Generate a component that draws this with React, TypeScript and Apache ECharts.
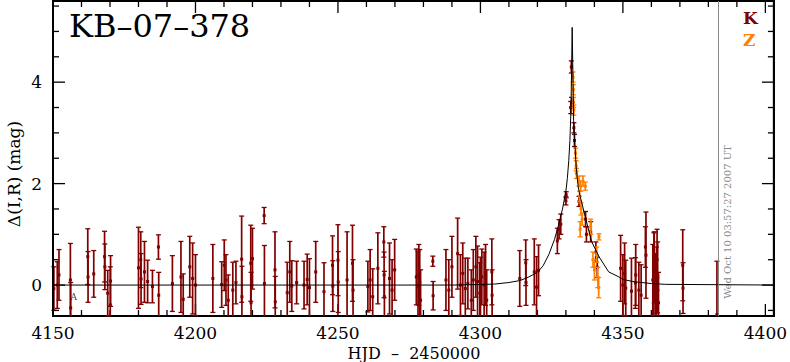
import React, { useEffect, useRef } from "react";
import * as echarts from "echarts";

// ---- data ----
const kData: number[][] = [
  [4150.3, -0.07, 0.43], [4151.5, 0.0, 0.46], [4152.1, 0.2, 0.5], [4156.1, 0.1, 0.72], [4156.2, -0.45, 0.5],
  [4162.2, 0.56, 0.55], [4162.3, 0.16, 0.5], [4164.3, 0.22, 0.46], [4168.1, 0.56, 0.5], [4168.2, 0.36, 0.45],
  [4169.2, -0.16, 0.45], [4170.1, -0.39, 0.75], [4170.2, 0.08, 0.5], [4180.0, 0.34, 0.8], [4180.8, 0.5, 0.55],
  [4180.9, 0.12, 0.5], [4182.1, 0.26, 0.6], [4183.2, 0.07, 0.42], [4184.9, -0.03, 0.32], [4187.0, 0.75, 0.24],
  [4187.1, -0.2, 0.45], [4191.9, 0.03, 0.55], [4194.9, 0.16, 0.7], [4195.7, -0.28, 0.5], [4198.0, 0.36, 0.6],
  [4199.0, 0.13, 0.7], [4200.0, 0.0, 0.6], [4206.1, 0.13, 0.67], [4209.2, 0.01, 0.45], [4210.1, 0.39, 0.5],
  [4210.7, 0.1, 0.5], [4211.5, -0.3, 0.5], [4213.1, -0.1, 0.55], [4214.2, 0.05, 0.42], [4216.2, 0.51, 0.85],
  [4216.3, -0.23, 0.6], [4219.4, 0.43, 0.75], [4219.5, -0.35, 0.6], [4220.0, 0.52, 0.6], [4224.1, 1.37, 0.16],
  [4224.2, 0.03, 0.75], [4227.9, 0.3, 0.75], [4228.0, -0.33, 0.5], [4232.2, -0.15, 0.6], [4233.1, 0.26, 0.6],
  [4233.8, -0.02, 0.5], [4235.5, 0.05, 0.42], [4238.1, 0.0, 0.47], [4239.2, 0.11, 0.5], [4240.0, -0.05, 0.57],
  [4242.2, 0.26, 0.6], [4245.1, -0.13, 0.57], [4248.1, 0.39, 0.58], [4248.2, -0.02, 0.5], [4250.0, 0.49, 0.7],
  [4250.1, 0.06, 0.6], [4253.2, 0.1, 0.95], [4255.1, 0.43, 0.75], [4255.3, -0.1, 0.6], [4260.5, -0.03, 0.5],
  [4261.3, 0.1, 0.6], [4262.2, -0.23, 0.55], [4264.0, 0.33, 0.7], [4266.1, 0.85, 0.3], [4266.2, 0.2, 0.45],
  [4266.3, -0.23, 0.5], [4268.1, 0.13, 0.7], [4269.0, -0.1, 0.6], [4269.9, 0.3, 0.6], [4277.5, 0.16, 0.55],
  [4278.1, -0.03, 0.7], [4278.4, 0.2, 0.6], [4278.7, 0.05, 0.65], [4279.0, -0.3, 0.6], [4283.3, 0.47, 0.1],
  [4283.4, -0.21, 0.28], [4287.9, 0.1, 0.6], [4288.9, -0.1, 0.6], [4290.0, 0.36, 0.6], [4292.0, 0.62, 0.7],
  [4293.0, 0.0, 0.6], [4293.8, 0.23, 0.6], [4294.7, -0.07, 0.6], [4295.6, 0.03, 0.5], [4296.8, -0.3, 0.6],
  [4297.5, 0.1, 0.6], [4298.4, 0.36, 0.6], [4299.0, 0.07, 0.7], [4299.8, -0.16, 0.6], [4300.0, -0.05, 0.6],
  [4300.5, 0.16, 0.55], [4301.3, 0.0, 0.65], [4301.8, 0.2, 0.6], [4302.2, -0.3, 0.6], [4304.0, 0.26, 0.65],
  [4304.1, -0.2, 0.5], [4313.8, 0.13, 0.55], [4315.9, 0.44, 0.45], [4316.0, 0.05, 0.45], [4318.9, 0.26, 0.65],
  [4319.7, -0.04, 0.6], [4320.4, 0.29, 0.5], [4327.0, 0.87, 0.25], [4327.6, 1.1, 0.19], [4328.2, 1.2, 0.2],
  [4330.0, 1.66, 0.08], [4330.1, 1.78, 0.06], [4331.7, 3.5, 0.12], [4331.9, 4.3, 0.12], [4332.0, 3.6, 0.1],
  [4332.8, 3.1, 0.1], [4333.0, 2.85, 0.12], [4334.6, 1.65, 0.1], [4336.9, 1.3, 0.15], [4337.2, 1.0, 0.15],
  [4338.7, 1.05, 0.2], [4340.5, 0.65, 0.2], [4341.0, 0.35, 0.2], [4349.2, 0.33, 0.65], [4350.0, 0.0, 0.6],
  [4350.6, 0.23, 0.6], [4351.0, -0.06, 0.55], [4353.0, -0.12, 0.65], [4354.4, 0.04, 0.5], [4354.5, 0.2, 0.6],
  [4355.6, -0.1, 0.55], [4356.4, -0.2, 0.6], [4357.9, 0.75, 0.4], [4358.1, 0.59, 0.85], [4360.5, 0.1, 0.7],
  [4360.9, 0.23, 0.8], [4361.0, 0.35, 0.7], [4361.5, -0.08, 0.7], [4361.8, 0.0, 0.75], [4362.0, 0.5, 0.6],
  [4362.2, 0.15, 0.7], [4362.5, -0.35, 0.6], [4371.0, 0.39, 0.7], [4371.1, -0.06, 0.5], [4383.0, -0.58, 1.05],
];

const zData: number[][] = [
  [4332.5, 4.1, 0.1], [4332.6, 3.85, 0.1], [4332.7, 3.6, 0.1], [4332.8, 3.45, 0.1], [4333.4, 2.6, 0.1],
  [4333.6, 2.35, 0.1], [4333.7, 2.2, 0.1], [4334.6, 2.05, 0.1], [4335.2, 1.95, 0.1], [4336.0, 2.05, 0.1],
  [4336.8, 1.95, 0.08], [4334.8, 1.75, 0.1], [4335.3, 1.5, 0.12], [4335.7, 1.3, 0.12], [4335.0, 1.1, 0.15],
  [4338.7, 1.15, 0.15], [4341.6, 0.95, 0.06], [4339.5, 0.5, 0.15], [4340.0, 0.3, 0.2], [4340.8, 0.6, 0.15],
  [4341.2, 0.15, 0.2], [4341.5, -0.05, 0.2],
];

const modelT = [4150, 4290, 4300, 4305, 4310, 4314, 4317, 4320, 4322, 4324, 4326, 4327.5, 4328.8, 4330, 4330.5, 4331, 4331.4, 4331.8, 4332.2, 4332.5, 4332.7, 4333.2, 4333.6, 4334.3, 4335, 4337, 4339, 4341.6, 4345, 4348.6, 4350, 4354, 4360, 4365, 4403];
const modelV = [0, 0.0, 0.01, 0.02, 0.05, 0.09, 0.16, 0.25, 0.38, 0.6, 0.9, 1.2, 1.5, 1.85, 2.1, 2.45, 2.85, 3.5, 5.08, 4.0, 3.25, 2.72, 2.33, 1.94, 1.75, 1.3, 0.86, 0.56, 0.26, 0.16, 0.11, 0.065, 0.03, 0.014, 0];

const aMark: number[][] = [[4157.3, -0.24]];

const xMajor = [4150, 4200, 4250, 4300, 4350, 4400];
const xMinor = [4160, 4170, 4180, 4190, 4210, 4220, 4230, 4240, 4260, 4270, 4280, 4290, 4310, 4320, 4330, 4340, 4360, 4370, 4380, 4390];
const yMajor = [0, 2, 4];
const yMinor = [-0.5, 0.5, 1, 1.5, 2.5, 3, 3.5, 4.5, 5, 5.5];

const X_MIN = 4150, X_MAX = 4403, Y_MIN = -0.61, Y_MAX = 5.6;
const stampT = 4383.6;

const FONT = "DejaVu Serif";
const K_COLOR = "#800000";
const Z_COLOR = "#ff8000";
const INK = "#000000";
const MAJOR_LEN = 12, MINOR_LEN = 6;

// frame and ticks on all four sides, positioned through the axis scales
function frameChildren(cs: any, api: any) {
  const out: any[] = [];
  const st = { stroke: INK, lineWidth: 1.3 };
  const xl = cs.x, xr = cs.x + cs.width, yt = cs.y, yb = cs.y + cs.height;
  out.push({ type: "rect", shape: { x: xl, y: yt, width: cs.width, height: cs.height }, style: { fill: "none", stroke: INK, lineWidth: 2 } });
  const xt = (vals: number[], len: number) => vals.forEach((v) => {
    const x = api.coord([v, Y_MIN])[0];
    out.push({ type: "line", shape: { x1: x, y1: yb, x2: x, y2: yb - len }, style: st });
    out.push({ type: "line", shape: { x1: x, y1: yt, x2: x, y2: yt + len }, style: st });
  });
  const ytk = (vals: number[], len: number) => vals.forEach((v) => {
    const y = api.coord([X_MIN, v])[1];
    out.push({ type: "line", shape: { x1: xl, y1: y, x2: xl + len, y2: y }, style: st });
    out.push({ type: "line", shape: { x1: xr, y1: y, x2: xr - len, y2: y }, style: st });
  });
  xt(xMajor, MAJOR_LEN); xt(xMinor, MINOR_LEN);
  ytk(yMajor, MAJOR_LEN); ytk(yMinor, MINOR_LEN);
  return out;
}

function errRender(color: string, withFrame: boolean) {
  return (params: any, api: any) => {
    const t = api.value(0), v = api.value(1), e = api.value(2);
    const cs = params.coordSys;
    const yMin = cs.y, yMax = cs.y + cs.height;
    const p = api.coord([t, v]);
    const top = api.coord([t, v + e]);
    const bot = api.coord([t, v - e]);
    const clamp = (y: number) => Math.max(yMin, Math.min(yMax, y));
    const children: any[] = [];
    const y1 = clamp(top[1]), y2 = clamp(bot[1]);
    if (y2 > yMin && y1 < yMax) {
      children.push({ type: "line", shape: { x1: p[0], y1, x2: p[0], y2 }, style: { stroke: color, lineWidth: 1.7 } });
    }
    if (top[1] >= yMin && top[1] <= yMax)
      children.push({ type: "line", shape: { x1: p[0] - 2.5, y1: top[1], x2: p[0] + 2.5, y2: top[1] }, style: { stroke: color, lineWidth: 1.3 } });
    if (bot[1] >= yMin && bot[1] <= yMax)
      children.push({ type: "line", shape: { x1: p[0] - 2.5, y1: bot[1], x2: p[0] + 2.5, y2: bot[1] }, style: { stroke: color, lineWidth: 1.3 } });
    if (p[1] >= yMin && p[1] <= yMax)
      children.push({ type: "rect", shape: { x: p[0] - 1.5, y: p[1] - 1.5, width: 3, height: 3 }, style: { fill: color } });
    if (withFrame && params.dataIndex === 0) children.push(...frameChildren(cs, api));
    return { type: "group", children };
  };
}

const near = (arr: number[], v: number) => arr.some((m) => Math.abs(m - v) < 1e-6);
const xFmt = (v: number) => (near(xMajor, v) ? String(Math.round(v)) : "");
const yFmt = (v: number) => (near(yMajor, v) ? String(Math.round(v)) : "");

export default function App() {
  const ref = useRef<HTMLDivElement>(null);
  useEffect(() => {
    if (!ref.current) return;
    const chart = echarts.init(ref.current, null, { renderer: "svg" });
    chart.setOption({
      animation: false,
      grid: { left: 53, top: 1, width: 722, height: 315, show: true, borderColor: INK, borderWidth: 2 },
      xAxis: {
        type: "value", min: X_MIN, max: X_MAX, interval: 50, position: "bottom",
        axisLine: { show: true, onZero: false, lineStyle: { color: INK, width: 2 } },
        splitLine: { show: false }, axisTick: { show: false },
        axisLabel: { show: true, formatter: xFmt, fontFamily: FONT, fontSize: 17, color: "#000", margin: 8 },
      },
      yAxis: {
        type: "value", min: Y_MIN, max: Y_MAX, splitNumber: 6, position: "left",
        axisLine: { show: true, onZero: false, lineStyle: { color: INK, width: 2 } },
        splitLine: { show: false }, axisTick: { show: false },
        axisLabel: { show: true, formatter: yFmt, fontFamily: FONT, fontSize: 17, color: "#000", margin: 11 },
      },
      series: [
        {
          type: "line", data: modelT.map((t, i) => [t, modelV[i]]), showSymbol: false, silent: true,
          lineStyle: { color: "#000", width: 1 }, z: 3,
          markLine: {
            silent: true, symbol: "none", label: { show: false },
            lineStyle: { color: "#888", width: 1, type: "solid" },
            data: [{ xAxis: stampT }],
          },
        },
        { type: "custom", renderItem: errRender(K_COLOR, true), data: kData, encode: { x: 0, y: 1 }, z: 2 },
        { type: "custom", renderItem: errRender(Z_COLOR, false), data: zData, encode: { x: 0, y: 1 }, z: 2 },
        {
          type: "scatter", data: aMark, symbolSize: 0,
          label: { show: true, formatter: "A", position: "inside", fontFamily: FONT, fontSize: 9, color: "#000" },
        },
      ],
      graphic: [
        { type: "text", left: 69, top: 10, style: { text: "KB–07–378", fontFamily: FONT, fontSize: 32, fill: "#000" } },
        { type: "text", x: 743, y: 9, style: { text: "K", fontFamily: FONT, fontSize: 17, fontWeight: "bold", fill: K_COLOR } },
        { type: "text", x: 743, y: 31, style: { text: "Z", fontFamily: FONT, fontSize: 17, fontWeight: "bold", fill: Z_COLOR } },
        {
          type: "text", x: 727, y: 222, rotation: Math.PI / 2,
          style: { text: "Wed Oct 10 03:57:27 2007 UT", fontFamily: FONT, fontSize: 10, fill: "#888", align: "center", verticalAlign: "middle" },
        },
        {
          type: "text", x: 14, y: 174, rotation: Math.PI / 2,
          style: { text: "Δ(I,R) (mag)", fontFamily: FONT, fontSize: 17, fill: "#000", align: "center", verticalAlign: "middle" },
        },
        {
          type: "text", x: 414, y: 353,
          style: { text: "HJD  –  2450000", fontFamily: FONT, fontSize: 16, fill: "#000", align: "center", verticalAlign: "middle" },
        },
      ],
    });
    return () => chart.dispose();
  }, []);
  return <div ref={ref} style={{ position: "absolute", left: 0, top: 0, width: 790, height: 362, background: "#fff" }} />;
}
